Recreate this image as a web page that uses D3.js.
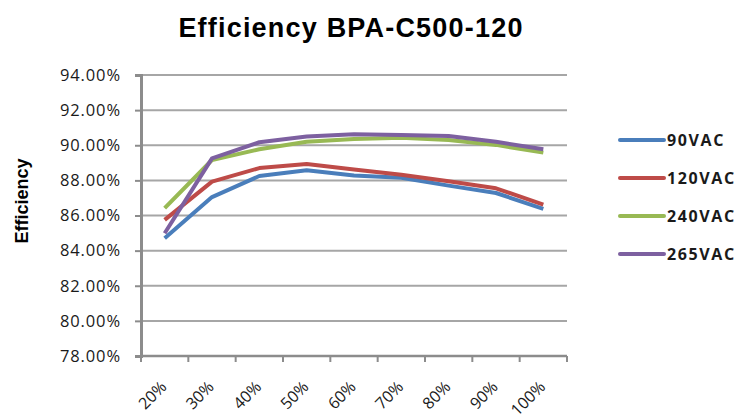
<!doctype html>
<html lang="en">
   <head>
      <meta charset="utf-8">
      <title>Efficiency BPA-C500-120</title>
      <script src="https://d3js.org/d3.v7.min.js"></script>
      <style>
         body { margin: 0; background: #fff; }
         text { font-family: "Liberation Sans", Arial, sans-serif; }
      </style>
   </head>
   <body>
      <svg id="chart" width="738" height="420"></svg>
      <script>
      // load levels along the x axis
      var categories = ["20%", "30%", "40%", "50%", "60%", "70%", "80%", "90%", "100%"];
      var seriesNames = ["90VAC", "120VAC", "240VAC", "265VAC"];
      var colors = ["#4a7ebb", "#be4b48", "#98b954", "#7d60a0"];
      // efficiency in percent
      var vac90 = [84.7, 87.05, 88.25, 88.58, 88.28, 88.15, 87.7, 87.28, 86.38];
      var vac120 = [85.75, 87.93, 88.7, 88.93, 88.62, 88.32, 87.95, 87.55, 86.62];
      var vac240 = [86.42, 89.16, 89.77, 90.2, 90.35, 90.42, 90.3, 90.02, 89.58];
      var vac265 = [84.99, 89.25, 90.17, 90.5, 90.62, 90.58, 90.53, 90.2, 89.77];
      var yTicks = [78, 80, 82, 84, 86, 88, 90, 92, 94];

      var series = [vac90, vac120, vac240, vac265];

      var svg = d3.select("#chart");

      var x = d3.scaleBand()
         .domain(categories)
         .range([141, 567]);

      var y = d3.scaleLinear()
         .domain([78, 94])
         .range([356, 75]);

      var tickFont = "'Open Sans', sans-serif";

      // gridlines
      svg.append("g")
         .selectAll("line")
         .data(yTicks.slice(1))
         .enter().append("line")
         .attr("x1", 141)
         .attr("x2", 567)
         .attr("y1", function(d) { return y(d); })
         .attr("y2", function(d) { return y(d); })
         .attr("stroke", "#a6a6a6")
         .attr("stroke-width", 2);

      // y axis
      var yAxis = svg.append("g")
         .attr("transform", "translate(141,0)")
         .call(d3.axisLeft(y).tickValues(yTicks).tickSize(6).tickPadding(14)
            .tickFormat(function(d) { return d3.format(".2f")(d) + "%"; }));
      yAxis.select(".domain").attr("stroke", "#8c8c8c").attr("stroke-width", 3);
      yAxis.selectAll(".tick line").attr("stroke", "#8c8c8c").attr("stroke-width", 2);
      yAxis.selectAll("text")
         .attr("fill", "#1a1a1a")
         .style("font-family", tickFont)
         .style("font-size", "16.5px")
         .style("font-weight", "500")
         .style("letter-spacing", "0.9px");

      // x axis
      var xAxis = svg.append("g")
         .attr("transform", "translate(0,356)");
      xAxis.append("line")
         .attr("x1", 141).attr("x2", 567)
         .attr("stroke", "#8c8c8c").attr("stroke-width", 2.5);
      xAxis.selectAll("line.tk")
         .data(categories.concat(["end"]))
         .enter().append("line")
         .attr("class", "tk")
         .attr("x1", function(d, i) { return 141 + i * x.bandwidth(); })
         .attr("x2", function(d, i) { return 141 + i * x.bandwidth(); })
         .attr("y1", 0).attr("y2", 6)
         .attr("stroke", "#8c8c8c").attr("stroke-width", 2);
      xAxis.selectAll("text")
         .data(categories)
         .enter().append("text")
         .attr("transform", function(d) {
            return "translate(" + (x(d) + x.bandwidth() / 2 - 5) + ",24) rotate(-45)";
         })
         .attr("text-anchor", "end")
         .attr("dy", "0.7em")
         .attr("fill", "#1a1a1a")
         .style("font-family", tickFont)
         .style("font-size", "16px")
         .style("font-weight", "500")
         .text(function(d) { return d; });

      // lines
      var line = d3.line()
         .x(function(d, i) { return x(categories[i]) + x.bandwidth() / 2; })
         .y(function(d) { return y(d); });

      svg.append("g")
         .selectAll("path")
         .data(series)
         .enter().append("path")
         .attr("d", line)
         .attr("fill", "none")
         .attr("stroke", function(d, i) { return colors[i]; })
         .attr("stroke-width", 4)
         .attr("stroke-linejoin", "round");

      // legend
      var legend = svg.append("g")
         .selectAll("g")
         .data(seriesNames)
         .enter().append("g")
         .attr("transform", function(d, i) { return "translate(620," + (140 + i * 38) + ")"; });
      legend.append("line")
         .attr("x1", 0).attr("x2", 44)
         .attr("stroke", function(d, i) { return colors[i]; })
         .attr("stroke-width", 4)
         .attr("stroke-linecap", "round");
      legend.append("text")
         .attr("x", 47)
         .attr("dy", "0.36em")
         .attr("fill", "#1a1a1a")
         .style("font-family", tickFont)
         .style("font-weight", "bold")
         .style("font-size", "16px")
         .style("letter-spacing", "1.6px")
         .text(function(d) { return d; });

      // title
      svg.append("text")
         .attr("x", 351)
         .attr("y", 37)
         .attr("text-anchor", "middle")
         .style("font-size", "27px")
         .style("font-weight", "bold")
         .style("letter-spacing", "1.2px")
         .text("Efficiency BPA-C500-120");

      // y label
      svg.append("text")
         .attr("transform", "translate(28,201) rotate(-90)")
         .attr("text-anchor", "middle")
         .style("font-size", "18px")
         .style("font-weight", "bold")
         .text("Efficiency");
      </script>
   </body>
</html>
